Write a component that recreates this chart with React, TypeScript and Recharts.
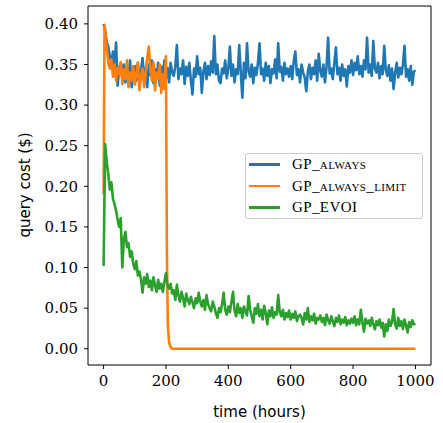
import React from "react";
import { LineChart, Line, XAxis, YAxis, ReferenceLine } from "recharts";

// sampled every 5 hours, 0..1000
const timeHours = Array.from({ length: 201 }, (_, i) => i * 5);

const gpAlways = [
  0.400, 0.392, 0.378, 0.372, 0.360, 0.352, 0.366, 0.348, 0.377, 0.324, 0.345, 0.352, 0.333, 0.350, 0.328, 0.344, 0.337, 0.355, 0.322, 0.341,
  0.348, 0.330, 0.352, 0.325, 0.343, 0.358, 0.331, 0.346, 0.322, 0.350, 0.337, 0.355, 0.327, 0.344, 0.333, 0.352, 0.324, 0.347, 0.338, 0.355,
  0.333, 0.346, 0.328, 0.352, 0.340, 0.336, 0.348, 0.374, 0.332, 0.345, 0.338, 0.355, 0.326, 0.347, 0.336, 0.352, 0.330, 0.313, 0.345, 0.335,
  0.360, 0.338, 0.346, 0.315, 0.341, 0.352, 0.332, 0.348, 0.337, 0.354, 0.340, 0.385, 0.338, 0.350, 0.330, 0.327, 0.345, 0.339, 0.355, 0.333,
  0.345, 0.372, 0.336, 0.350, 0.328, 0.344, 0.338, 0.374, 0.340, 0.309, 0.352, 0.333, 0.376, 0.341, 0.335, 0.350, 0.327, 0.346, 0.337, 0.352,
  0.376, 0.338, 0.345, 0.330, 0.352, 0.336, 0.348, 0.327, 0.344, 0.339, 0.356, 0.333, 0.376, 0.341, 0.347, 0.330, 0.352, 0.338, 0.345, 0.335,
  0.348, 0.332, 0.355, 0.366, 0.337, 0.344, 0.328, 0.350, 0.340, 0.334, 0.317, 0.341, 0.350, 0.332, 0.346, 0.338, 0.355, 0.330, 0.363, 0.342,
  0.335, 0.350, 0.328, 0.347, 0.383, 0.339, 0.345, 0.332, 0.352, 0.371, 0.338, 0.346, 0.330, 0.350, 0.336, 0.344, 0.323, 0.348, 0.340, 0.355,
  0.337, 0.352, 0.343, 0.360, 0.338, 0.348, 0.335, 0.355, 0.344, 0.383, 0.340, 0.350, 0.336, 0.379, 0.345, 0.340, 0.352, 0.333, 0.348, 0.338,
  0.373, 0.343, 0.336, 0.349, 0.330, 0.345, 0.320, 0.340, 0.352, 0.334, 0.346, 0.338, 0.350, 0.373, 0.335, 0.344, 0.330, 0.348, 0.325, 0.341,
  0.343,
];

const gpEvoi = [
  0.102, 0.252, 0.230, 0.215, 0.196, 0.205, 0.185, 0.178, 0.170, 0.159, 0.150, 0.161, 0.100, 0.135, 0.144, 0.125, 0.130, 0.113, 0.120, 0.105,
  0.098, 0.108, 0.090, 0.095, 0.085, 0.069, 0.088, 0.080, 0.092, 0.076, 0.084, 0.072, 0.088, 0.078, 0.070, 0.085, 0.074, 0.080, 0.070, 0.082,
  0.093, 0.078, 0.074, 0.080, 0.068, 0.072, 0.060, 0.079, 0.066, 0.058, 0.070, 0.062, 0.052, 0.068, 0.060, 0.055, 0.064, 0.057, 0.050, 0.062,
  0.056, 0.069, 0.058, 0.052, 0.060, 0.048, 0.066, 0.055, 0.050, 0.046, 0.058, 0.052, 0.044, 0.038, 0.050, 0.045, 0.055, 0.069, 0.048, 0.042,
  0.052, 0.045, 0.058, 0.070, 0.047, 0.040, 0.055, 0.044, 0.050, 0.038, 0.052, 0.046, 0.041, 0.065, 0.048, 0.040, 0.032, 0.050, 0.043, 0.055,
  0.040, 0.048, 0.036, 0.053, 0.044, 0.030, 0.047, 0.040, 0.051, 0.038, 0.045, 0.042, 0.066, 0.045, 0.040, 0.048, 0.036, 0.044, 0.039, 0.047,
  0.036, 0.043, 0.038, 0.046, 0.034, 0.040, 0.042, 0.038, 0.030, 0.044, 0.036, 0.050, 0.033, 0.040, 0.035, 0.043, 0.031, 0.038, 0.036, 0.041,
  0.033, 0.038, 0.029, 0.042, 0.035, 0.031, 0.040, 0.034, 0.028, 0.038, 0.033, 0.041, 0.030, 0.036, 0.032, 0.039, 0.029, 0.035, 0.031, 0.037,
  0.032, 0.040, 0.029, 0.036, 0.030, 0.048, 0.033, 0.021, 0.037, 0.031, 0.035, 0.028, 0.038, 0.030, 0.024, 0.034, 0.029, 0.036, 0.026, 0.032,
  0.015, 0.030, 0.022, 0.036, 0.028, 0.033, 0.049, 0.030, 0.025, 0.038, 0.028, 0.034, 0.024, 0.036, 0.029, 0.020, 0.033, 0.027, 0.035, 0.030,
  0.031,
];

// the limited policy stops querying after ~200 h
const limitTime = [
  0, 3, 10, 15, 20, 25, 30, 35, 40, 45, 50, 55, 60, 65, 70, 75, 80, 85, 90, 95,
  100, 105, 110, 115, 120, 125, 130, 135, 140, 145, 150, 155, 160, 165, 170, 175, 180, 185, 190, 195,
  200, 203, 206, 210, 215, 220, 1000,
];
const gpAlwaysLimit = [
  0.190, 0.398, 0.372, 0.352, 0.345, 0.356, 0.335, 0.350, 0.330, 0.346, 0.338, 0.353, 0.326, 0.344, 0.332, 0.355, 0.322, 0.340, 0.330, 0.348,
  0.325, 0.338, 0.352, 0.318, 0.335, 0.345, 0.322, 0.340, 0.358, 0.372, 0.345, 0.330, 0.352, 0.318, 0.340, 0.333, 0.350, 0.315, 0.338, 0.320,
  0.360, 0.120, 0.030, 0.008, 0.002, 0.000, 0.000,
];

const xTicks = [0, 200, 400, 600, 800, 1000];
const yTicks = [0, 0.05, 0.1, 0.15, 0.2, 0.25, 0.3, 0.35, 0.4];
const xDomain: [number, number] = [-50, 1050];
const yDomain: [number, number] = [-0.02, 0.422];

const series = [
  { name: "GP_always", color: "#1f77b4", data: timeHours.map((t, i) => ({ t, cost: gpAlways[i] })) },
  { name: "GP_always_limit", color: "#ff7f0e", data: limitTime.map((t, i) => ({ t, cost: gpAlwaysLimit[i] })) },
  { name: "GP_EVOI", color: "#2ca02c", data: timeHours.map((t, i) => ({ t, cost: gpEvoi[i] })) },
];

const W = 443;
const H = 423;
const tickFont = { fill: "#000", fontSize: 15, fontFamily: "'DejaVu Serif', serif" };
const labelFont = "'DejaVu Sans', sans-serif";

export default function App() {
  return (
    <div style={{ position: "absolute", left: 0, top: 0, width: W, height: H, background: "#fff" }}>
      <LineChart width={W} height={H} margin={{ top: 6, right: 12, left: 0, bottom: 0 }}>
        <XAxis
          type="number"
          dataKey="t"
          domain={xDomain}
          ticks={xTicks}
          allowDataOverflow
          height={58}
          axisLine={{ stroke: "#000", strokeWidth: 1 }}
          tickLine={{ stroke: "#000" }}
          tickSize={4}
          tickMargin={6}
          tick={tickFont}
          label={{
            content: () => (
              <text x={259.5} y={412} textAnchor="middle" dominantBaseline="central" fontSize={15} fontFamily={labelFont} fill="#000">
                time (hours)
              </text>
            ),
          }}
        />
        <YAxis
          type="number"
          domain={yDomain}
          ticks={yTicks}
          allowDataOverflow
          width={88}
          axisLine={{ stroke: "#000", strokeWidth: 1 }}
          tickLine={{ stroke: "#000" }}
          tickSize={4}
          tickMargin={6}
          tick={tickFont}
          tickFormatter={(v: number) => v.toFixed(2)}
          label={{
            content: () => (
              <text x={25} y={185} transform="rotate(-90 25 185)" textAnchor="middle" dominantBaseline="central" fontSize={15} fontFamily={labelFont} fill="#000">
                query cost ($)
              </text>
            ),
          }}
        />
        {/* close the frame on top and right like matplotlib's axes box */}
        <ReferenceLine y={yDomain[1]} stroke="#000" strokeWidth={1} ifOverflow="visible" />
        <ReferenceLine x={xDomain[1]} stroke="#000" strokeWidth={1} ifOverflow="visible" />
        {series.map((s) => (
          <Line
            key={s.name}
            data={s.data}
            dataKey="cost"
            name={s.name}
            type="linear"
            stroke={s.color}
            strokeWidth={2.6}
            strokeLinejoin="round"
            dot={false}
            activeDot={false}
            isAnimationActive={false}
          />
        ))}
      </LineChart>
      <div
        style={{
          position: "absolute",
          left: 245,
          top: 153,
          width: 178,
          height: 66,
          border: "1px solid #cccccc",
          borderRadius: 3,
          background: "rgba(255,255,255,0.85)",
          boxSizing: "border-box",
        }}
      >
        {series.map((s, i) => (
          <div key={s.name} style={{ position: "absolute", left: 0, top: 10 + i * 21.5, width: "100%" }}>
            <div style={{ position: "absolute", left: 3, top: -1, width: 31, height: 2.6, background: s.color }} />
            <span
              style={{
                position: "absolute",
                left: 46,
                top: -9,
                lineHeight: "18px",
                fontSize: 15,
                fontFamily: "'Liberation Serif', serif",
                fontVariant: "small-caps",
                letterSpacing: 0.4,
                whiteSpace: "nowrap",
                color: "#000",
              }}
            >
              {s.name}
            </span>
          </div>
        ))}
      </div>
    </div>
  );
}
